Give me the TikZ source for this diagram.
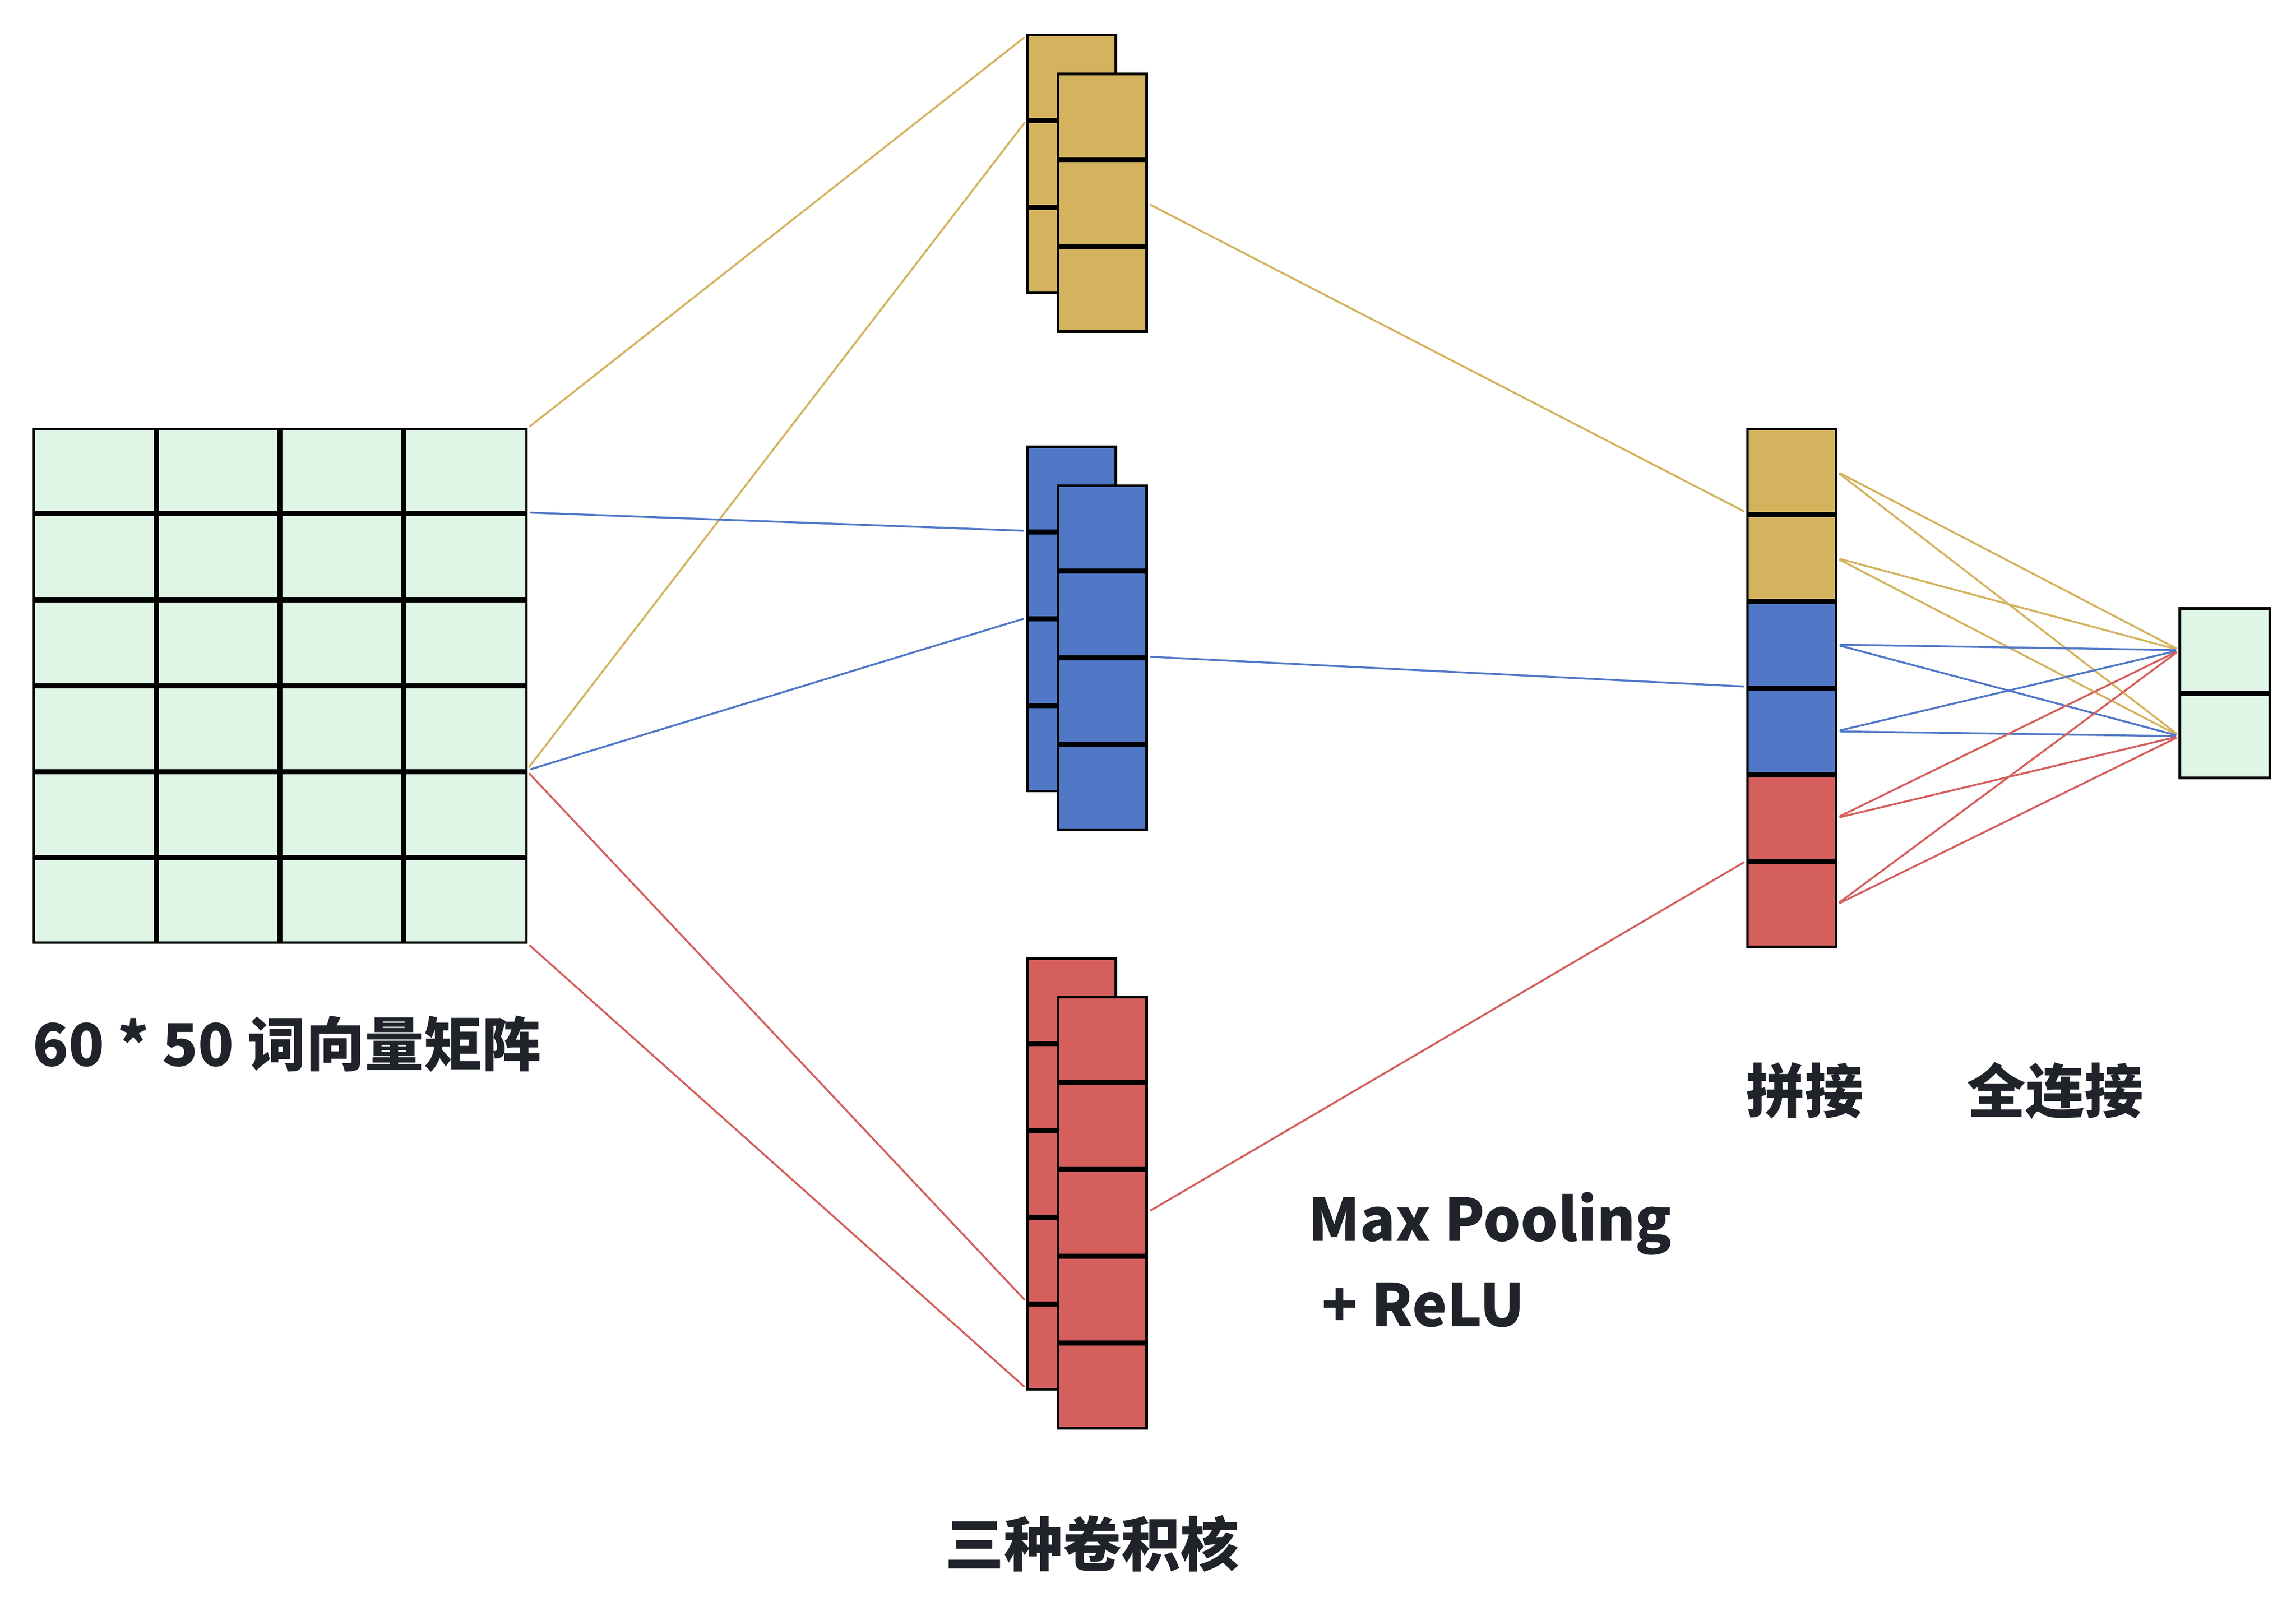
\documentclass[tikz,border=0pt]{standalone}
\usepackage{fontspec}
\setmainfont{Noto Sans CJK SC}
\usetikzlibrary{positioning}
\definecolor{kyellow}{HTML}{D4B35E}
\definecolor{kblue}{HTML}{5078C7}
\definecolor{kred}{HTML}{D45F5D}
\definecolor{kgreen}{HTML}{DFF5E5}
\definecolor{txtgray}{HTML}{202329}
\tikzset{
  cell/.style={draw=black, line width=1.75pt, inner sep=0pt, outer sep=0pt, anchor=north west},
  kernel/.style={cell, minimum width=60.25pt, minimum height=57.25pt},
  link/.style={draw=#1, line width=1.3pt, line cap=round, shorten <=3pt, shorten >=3pt},
  lbl/.style={inner sep=0pt, text=txtgray, font=\fontsize{40}{58}\selectfont\bfseries}
}
\begin{document}
\begin{tikzpicture}[x=1pt,y=-1pt]
\useasboundingbox (0,0) rectangle (1562,1095.8);

\foreach \r in {1,...,6}
  \foreach \c in {1,...,4}
    \node[cell, fill=kgreen, minimum width=82.5pt, minimum height=56.75pt] (m-\r-\c) at ({22.875+(\c-1)*84.25},{291.875+(\r-1)*58.5}) {};

\foreach \k/\col/\y/\n in {y/kyellow/23/3, b/kblue/303/4, r/kred/651/5} {
  \foreach \i in {1,...,\n}
    \node[kernel, fill=\col] (\k-back-\i) at (698.875,{\y+0.875+(\i-1)*59}) {};
  \foreach \i in {1,...,\n}
    \node[kernel, fill=\col] (\k-front-\i) at (719.875,{\y+27.375+(\i-1)*59}) {};
}

\foreach \i/\col in {1/kyellow, 2/kyellow, 3/kblue, 4/kblue, 5/kred, 6/kred}
  \node[kernel, fill=\col] (c-\i) at (1188.875,{291.875+(\i-1)*59}) {};
\foreach \j in {1,2}
  \node[cell, fill=kgreen, minimum width=61.25pt, minimum height=56.75pt] (o-\j) at (1482.875,{413.875+(\j-1)*58.5}) {};

\draw[link=kyellow] (m-1-4.north east) -- (y-back-1.north west);
\draw[link=kyellow] (m-4-4.south east) -- (y-back-1.south west);
\draw[link=kblue] (m-1-4.south east) -- (b-back-1.south west);
\draw[link=kblue] (m-4-4.south east) -- (b-back-2.south west);
\draw[link=kred] (m-4-4.south east) -- (r-back-4.south west);
\draw[link=kred] (m-6-4.south east) -- (r-back-5.south west);

\draw[link=kyellow] (y-front-2.east) -- (c-1.south west);
\draw[link=kblue] (b-front-2.south east) -- (c-3.south west);
\draw[link=kred] (r-front-3.east) -- (c-5.south west);

\foreach \i/\col in {1/kyellow, 2/kyellow, 3/kblue, 4/kblue, 5/kred, 6/kred}
  \foreach \j in {1,2}
    \draw[link=\col] (c-\i.east) -- (o-\j.west);

\node[lbl, anchor=west] (matlabel) at (22,710) {60 * 50 词向量矩阵};
\node[lbl] (kernlabel) at (743,1050) {三种卷积核};
\node[lbl, anchor=west, align=left] (poollabel) at (890,857) {Max Pooling\\\ + ReLU};
\node[lbl] (catlabel) at (1228,742) {拼接};
\node[lbl] (fclabel) at (1398,742) {全连接};
\end{tikzpicture}
\end{document}
